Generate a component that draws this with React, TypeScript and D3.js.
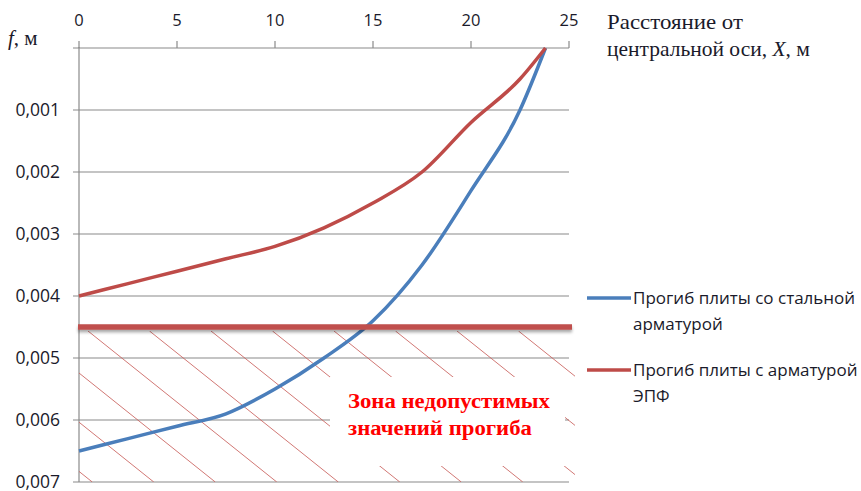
import React from "react";
import * as d3 from "d3";

// Distance from the slab's central axis, m
const distances = [0, 2.5, 5, 7.5, 10, 12.5, 15, 17.5, 20, 22.5, 23.8];
// Deflection of slab with steel reinforcement, m
const steelDeflection = [0.0065, 0.0063, 0.0061, 0.0059, 0.0055, 0.005, 0.0044, 0.0035, 0.0023, 0.001, 0];
// Deflection of slab with EPF reinforcement, m
const epfDeflection = [0.004, 0.0038, 0.0036, 0.0034, 0.0032, 0.0029, 0.0025, 0.002, 0.0012, 0.0005, 0];
// Allowed deflection limit, m
const limitDeflection = 0.0045;

const xTicks = [0, 5, 10, 15, 20, 25];
const yTicks = [0, 0.001, 0.002, 0.003, 0.004, 0.005, 0.006, 0.007];

const seriesNames = ["Прогиб плиты со стальной", "арматурой", "Прогиб плиты с арматурой", "ЭПФ"];

const W = 861;
const H = 491;
const plot = { left: 79, right: 569, top: 48, bottom: 482 };

const BLUE = "#4a7ebb";
const RED = "#be4b48";
const GRID = "#8a8a8a";
const SANS = "'Open Sans', 'Noto Sans', sans-serif";
const SERIF = "'Liberation Serif', 'Times New Roman', serif";
const LABEL = "#1a1a2a";

export default function App() {
  const x = d3.scaleLinear().domain([0, 25]).range([plot.left, plot.right]);
  const y = d3.scaleLinear().domain([0, 0.007]).range([plot.top, plot.bottom]);

  const line = d3
    .line<number>()
    .x((_, i) => x(distances[i]))
    .y((v) => y(v))
    .curve(d3.curveMonotoneX);

  const fmt = (v: number) => d3.format(".3f")(v).replace(".", ",");

  // hatched zone below the limit line
  const limitY = y(limitDeflection);
  const zone = { x0: plot.left, x1: 575, y0: limitY + 4, y1: plot.bottom };
  const slope = 0.8;
  const step = 61.5;
  const hatch = d3.range(-6, 10).map((i) => {
    const sx = 88 + i * step;
    return { x1: sx, y1: zone.y0, x2: sx + (zone.y1 - zone.y0) / slope, y2: zone.y1 };
  });

  return (
    <svg
      width={W}
      height={H}
      style={{ position: "absolute", left: 0, top: 0, background: "#fff" }}
    >
      <defs>
        <clipPath id="zoneClip">
          <rect x={zone.x0} y={zone.y0} width={zone.x1 - zone.x0} height={zone.y1 - zone.y0} />
        </clipPath>
        <filter id="lineShadow" filterUnits="userSpaceOnUse" x={60} y={limitY - 15} width={540} height={35}>
          <feDropShadow dx="0" dy="2.5" stdDeviation="1.6" floodColor="#000" floodOpacity="0.35" />
        </filter>
      </defs>

      {/* horizontal gridlines */}
      {yTicks.map((t) => (
        <g key={t}>
          <line x1={plot.left - 6} x2={plot.right} y1={y(t)} y2={y(t)} stroke={GRID} strokeWidth={1.2} />
          {t > 0 && (
            <text
              x={60}
              y={y(t)}
              dy="0.36em"
              textAnchor="end"
              fontFamily={SANS}
              fontSize={17.5}
              fill={LABEL}
            >
              {fmt(t)}
            </text>
          )}
        </g>
      ))}

      {/* left axis */}
      <line x1={plot.left} x2={plot.left} y1={plot.top - 1} y2={plot.bottom} stroke={GRID} strokeWidth={1.2} />

      {/* top axis ticks and labels */}
      {xTicks.map((t) => (
        <g key={t}>
          <line x1={x(t)} x2={x(t)} y1={plot.top} y2={plot.top - 7} stroke={GRID} strokeWidth={1.2} />
          <text x={x(t)} y={26} textAnchor="middle" fontFamily={SANS} fontSize={16.5} fill={LABEL}>
            {t}
          </text>
        </g>
      ))}

      {/* hatched zone */}
      <g clipPath="url(#zoneClip)">
        {hatch.map((h, i) => (
          <line key={i} {...h} stroke="#c9605c" strokeWidth={1} opacity={0.85} />
        ))}
      </g>

      {/* deflection curves */}
      <path d={line(steelDeflection) ?? ""} fill="none" stroke={BLUE} strokeWidth={3.5} strokeLinejoin="round" />
      <path d={line(epfDeflection) ?? ""} fill="none" stroke={RED} strokeWidth={3.5} strokeLinejoin="round" />

      {/* allowed deflection limit */}
      <rect
        x={plot.left - 1}
        y={limitY - 2.75}
        width={572 - plot.left + 1}
        height={5.5}
        fill="#c0504d"
        filter="url(#lineShadow)"
      />

      {/* zone label */}
      <rect x={330} y={377} width={235} height={89} fill="#fff" />
      <text fontFamily={SERIF} fontWeight="bold" fontSize={20.5} fill="#ff0000">
        <tspan x={348} y={408} textLength={202} lengthAdjust="spacingAndGlyphs">Зона недопустимых</tspan>
        <tspan x={348} y={435} textLength={184} lengthAdjust="spacingAndGlyphs">значений прогиба</tspan>
      </text>

      {/* axis titles */}
      <text x={8} y={45} fontFamily={SERIF} fontSize={21} fill={LABEL}>
        <tspan fontStyle="italic">f</tspan>
        <tspan>, м</tspan>
      </text>
      <text fontFamily={SERIF} fontSize={21.5} fill={LABEL}>
        <tspan x={607} y={29} textLength={136} lengthAdjust="spacingAndGlyphs">Расстояние от</tspan>
        <tspan x={607} y={56}>
          центральной оси, <tspan fontStyle="italic">X</tspan>, м
        </tspan>
      </text>

      {/* legend */}
      <line x1={587} x2={631} y1={298} y2={298} stroke={BLUE} strokeWidth={3.5} />
      <text fontFamily={SANS} fontSize={17} fill={LABEL}>
        <tspan x={633} y={304}>{seriesNames[0]}</tspan>
        <tspan x={633} y={330}>{seriesNames[1]}</tspan>
      </text>
      <line x1={587} x2={631} y1={370} y2={370} stroke={RED} strokeWidth={3.5} />
      <text fontFamily={SANS} fontSize={17} fill={LABEL}>
        <tspan x={633} y={376}>{seriesNames[2]}</tspan>
        <tspan x={633} y={402}>{seriesNames[3]}</tspan>
      </text>
    </svg>
  );
}
